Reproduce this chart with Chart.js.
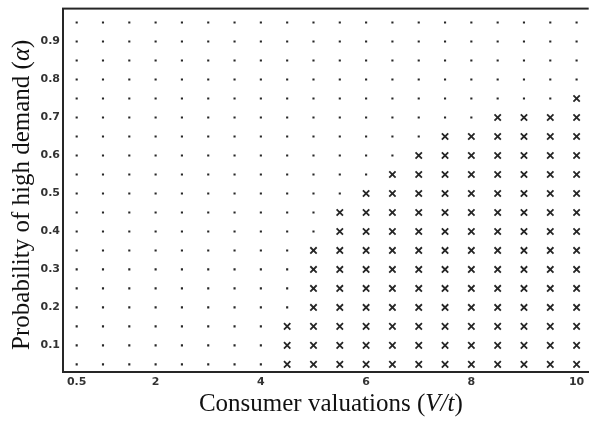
<!DOCTYPE html>
<html>
<head>
<meta charset="utf-8">
<script src="https://cdn.jsdelivr.net/npm/chart.js@4.4.0/dist/chart.umd.min.js"></script>
<style>
  html, body { margin: 0; padding: 0; background: #fff; }
  #wrap { width: 595px; height: 421px; }
</style>
</head>
<body>
<div id="wrap"><canvas id="chart"></canvas></div>
<script>
// Grid columns (V/t) and rows (alpha)
const xValues = [0.5, 1, 1.5, 2, 2.5, 3, 3.5, 4, 4.5, 5, 5.5, 6, 6.5, 7, 7.5, 8, 8.5, 9, 9.5, 10];
const alphaValues = [0.05, 0.1, 0.15, 0.2, 0.25, 0.3, 0.35, 0.4, 0.45, 0.5,
                     0.55, 0.6, 0.65, 0.7, 0.75, 0.8, 0.85, 0.9, 0.95];
// Highest alpha marked with an "x" in each column (0 = no x in that column)
const crossUpTo = [0, 0, 0, 0, 0, 0, 0, 0, 0.15, 0.35, 0.45, 0.5, 0.55, 0.6, 0.65, 0.65, 0.7, 0.7, 0.7, 0.75];

const xTicks = [0.5, 2, 4, 6, 8, 10];
const yTicks = [0.1, 0.2, 0.3, 0.4, 0.5, 0.6, 0.7, 0.8, 0.9];

const ink = '#262626';

// Split grid cells into dots and crosses
const dotPoints = [];
const crossPoints = [];
xValues.forEach((x, i) => {
  alphaValues.forEach(a => {
    if (a <= crossUpTo[i] + 1e-9) crossPoints.push({ x: x, y: a });
    else dotPoints.push({ x: x, y: a });
  });
});

// Axis titles with italic parts, plus the top frame line
const framePlugin = {
  id: 'frame',
  afterDraw(chart) {
    const ctx = chart.ctx;
    const area = chart.chartArea;
    ctx.save();
    ctx.fillStyle = ink;
    ctx.fillRect(area.left - 1, area.top - 2, area.right - area.left + 1, 2);

    ctx.fillStyle = '#111';
    const size = 25;
    const normal = size + 'px "Liberation Serif", "Times New Roman", serif';
    const italic = 'italic ' + normal;

    function drawParts(parts, cx, baseY) {
      let total = 0;
      parts.forEach(p => { ctx.font = p[1] ? italic : normal; total += ctx.measureText(p[0]).width; });
      let x = cx - total / 2;
      ctx.textBaseline = 'alphabetic';
      ctx.textAlign = 'left';
      parts.forEach(p => {
        ctx.font = p[1] ? italic : normal;
        ctx.fillText(p[0], x, baseY);
        x += ctx.measureText(p[0]).width;
      });
    }

    // x title
    drawParts([['Consumer valuations (', false], ['V/t', true], [')', false]],
      (area.left + area.right) / 2 + 5, 411);

    // y title (rotated)
    ctx.save();
    ctx.translate(29, (area.top + area.bottom) / 2 + 4);
    ctx.rotate(-Math.PI / 2);
    drawParts([['Probability of high demand (', false], ['\u03b1', true], [')', false]], 0, 0);
    ctx.restore();

    ctx.restore();
  }
};

const tickFont = { family: '"DejaVu Sans", Verdana, sans-serif', size: 11, weight: 'bold' };

new Chart(document.getElementById('chart'), {
  type: 'scatter',
  data: {
    datasets: [
      {
        label: 'no',
        data: dotPoints,
        pointStyle: 'rect',
        pointRadius: 1.5,
        borderWidth: 0,
        backgroundColor: ink,
        borderColor: ink
      },
      {
        label: 'yes',
        data: crossPoints,
        pointStyle: 'crossRot',
        pointRadius: 4.5,
        borderWidth: 1.8,
        borderColor: ink,
        backgroundColor: ink
      }
    ]
  },
  options: {
    responsive: true,
    maintainAspectRatio: false,
    animation: false,
    events: [],
    layout: { padding: { top: 2, right: 0, left: 0, bottom: 0 } },
    plugins: {
      legend: { display: false },
      tooltip: { enabled: false }
    },
    scales: {
      x: {
        type: 'linear',
        min: 0.24,
        max: 10.23,
        afterBuildTicks: s => { s.ticks = xTicks.map(v => ({ value: v })); },
        afterFit: s => { s.height = 49; },
        ticks: {
          font: tickFont,
          color: '#333',
          padding: 4,
          maxRotation: 0,
          autoSkip: false,
          callback: v => String(v)
        },
        grid: { display: false, drawTicks: false },
        border: { display: true, color: ink, width: 2 },
        title: { display: false }
      },
      y: {
        type: 'linear',
        min: 0.03,
        max: 0.984,
        afterBuildTicks: s => { s.ticks = yTicks.map(v => ({ value: v })); },
        afterFit: s => { s.width = 63; },
        ticks: {
          font: tickFont,
          color: '#333',
          padding: 3,
          autoSkip: false,
          callback: v => v.toFixed(1)
        },
        grid: { display: false, drawTicks: false },
        border: { display: true, color: ink, width: 2 },
        title: { display: false }
      }
    }
  },
  plugins: [framePlugin]
});
</script>
</body>
</html>
